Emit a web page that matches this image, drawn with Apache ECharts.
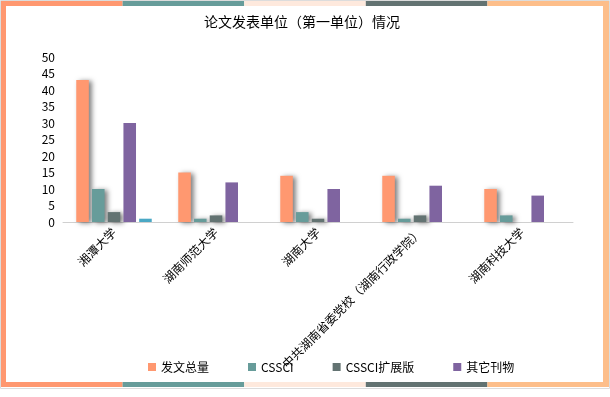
<!DOCTYPE html>
<html>
<head>
<meta charset="utf-8">
<script src="https://cdn.jsdelivr.net/npm/echarts@6/dist/echarts.min.js"></script>
<style>
  html, body { margin: 0; padding: 0; background: #fff; }
  #chart { width: 610px; height: 397px; }
</style>
</head>
<body>
<div id="chart"></div>
<script>
// 数据
var categories = ["湘潭大学", "湖南师范大学", "湖南大学", "中共湖南省委党校（湖南行政学院）", "湖南科技大学"];
var totalData = [43, 15, 14, 14, 10];
var cssciData = [10, 1, 3, 1, 2];
var cssciExtData = [3, 2, 1, 2, 0];
var otherData = [30, 12, 10, 11, 8];
var extraData = [1, 0, 0, 0, 0];
var seriesNames = ["发文总量", "CSSCI", "CSSCI扩展版", "其它刊物", ""];
var colorList = ["#ff9870", "#679c9a", "#637372", "#7f64a0", "#4aa8c5"];
var frameColors = ["#ff9870", "#679c9a", "#fee9dd", "#637372", "#fdbe8a"];

var myChart = echarts.init(document.getElementById("chart"));
var font = '"Noto Sans CJK SC", "Microsoft YaHei", sans-serif';

var shadow = {
  shadowColor: "rgba(0,0,0,0.5)",
  shadowBlur: 5,
  shadowOffsetX: 3,
  shadowOffsetY: 1
};

function makeBar(i, data, withShadow) {
  var style = { color: colorList[i] };
  if (withShadow) Object.assign(style, shadow);
  return {
    name: seriesNames[i],
    type: "bar",
    data: data,
    barGap: "25%",
    barCategoryGap: "26%",
    itemStyle: style,
    emphasis: { disabled: true }
  };
}

// 外框（彩色条）
var graphics = [
  { type: "rect", shape: { x: 0.5, y: 0.5, width: 609, height: 388 }, style: { fill: null, stroke: "#dcdcdc", lineWidth: 1 }, z: 100 },
  { type: "rect", shape: { x: 1, y: 1, width: 5, height: 386 }, style: { fill: frameColors[0] }, z: 101 },
  { type: "rect", shape: { x: 603, y: 1, width: 6, height: 386 }, style: { fill: frameColors[4] }, z: 101 }
];
for (var k = 0; k < 5; k++) {
  var x0 = 1 + k * 121.6;
  graphics.push({ type: "rect", shape: { x: x0, y: 1, width: 121.6, height: 5 }, style: { fill: frameColors[k] }, z: 102 });
  graphics.push({ type: "rect", shape: { x: x0, y: 382, width: 121.6, height: 5 }, style: { fill: frameColors[k] }, z: 102 });
}

var option = {
  animation: false,
  title: {
    text: "论文发表单位（第一单位）情况",
    left: 297,
    textAlign: "center",
    top: 10,
    textStyle: { fontFamily: font, fontSize: 14, fontWeight: "normal", color: "#000" }
  },
  legend: {
    data: ["发文总量", "CSSCI", "CSSCI扩展版", "其它刊物"],
    left: 143,
    top: 356,
    icon: "rect",
    itemWidth: 8,
    itemHeight: 8,
    itemGap: 39,
    textStyle: { fontFamily: font, fontSize: 12, color: "#000" }
  },
  grid: {
    left: 63,
    right: 37,
    top: 57,
    bottom: 175
  },
  xAxis: [{
    type: "category",
    data: categories,
    axisLine: { lineStyle: { color: "#d0d0d0", width: 1 } },
    axisTick: { show: false },
    axisLabel: {
      rotate: 45,
      interval: 0,
      margin: 8,
      fontFamily: font,
      fontSize: 12,
      color: "#000"
    }
  }],
  yAxis: [{
    type: "value",
    min: 0,
    max: 50,
    interval: 5,
    axisLine: { show: false },
    axisTick: { show: false },
    splitLine: { show: false },
    axisLabel: { fontFamily: font, fontSize: 12, color: "#000", margin: 8 }
  }],
  series: [
    makeBar(0, totalData, true),
    makeBar(1, cssciData, true),
    makeBar(2, cssciExtData, true),
    makeBar(3, otherData, false),
    makeBar(4, extraData, false)
  ],
  graphic: graphics
};

window.onresize = myChart.resize;
myChart.setOption(option);
</script>
</body>
</html>
